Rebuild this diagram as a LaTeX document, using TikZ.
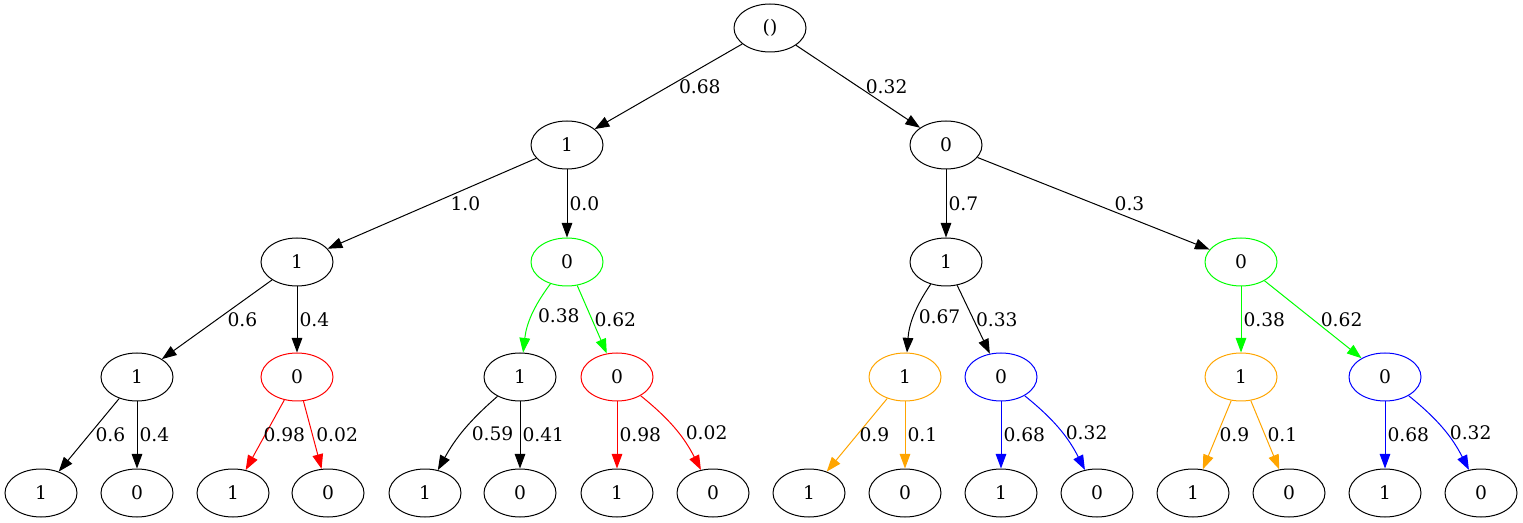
\documentclass[tikz,border=0pt]{standalone}
\usepackage{fontspec}
\setmainfont{DejaVu Serif}
\usetikzlibrary{arrows.meta,shapes.geometric}
\definecolor{gvgreen}{RGB}{0,255,0}
\definecolor{gvorange}{RGB}{255,165,0}
\tikzset{
  >={Triangle[length=11pt,width=8pt]},
  state/.style={draw,ellipse,minimum width=54pt,minimum height=36pt,inner sep=0pt},
  prob/.style={right,inner sep=1.5pt,text=black},
}

\begin{document}
\begin{tikzpicture}[
x=0.75pt,y=-0.75pt,
->,
line width=0.75pt,
font=\fontsize{14}{17}\selectfont
]
\useasboundingbox (0,0) rectangle (1523,523);
% root and upper levels
\node[state] (r) at (770,28) {()};
\node[state] (n1) at (567,145) {1};
\node[state] (n0) at (946,145) {0};
\node[state] (n11) at (297,262) {1};
\node[state,gvgreen] (n10) at (567,262) {\textcolor{black}{0}};
\node[state] (n01) at (946,262) {1};
\node[state,gvgreen] (n00) at (1241,262) {\textcolor{black}{0}};
\node[state] (n111) at (137,377) {1};
\node[state,red] (n110) at (297,377) {\textcolor{black}{0}};
\node[state] (n101) at (520,377) {1};
\node[state,red] (n100) at (617,377) {\textcolor{black}{0}};
\node[state,gvorange] (n011) at (905,377) {\textcolor{black}{1}};
\node[state,blue] (n010) at (1001,377) {\textcolor{black}{0}};
\node[state,gvorange] (n001) at (1241,377) {\textcolor{black}{1}};
\node[state,blue] (n000) at (1385,377) {\textcolor{black}{0}};
% leaves
\node[state] (n1111) at (41,493) {1};
\node[state] (n1110) at (137,493) {0};
\node[state] (n1101) at (233,493) {1};
\node[state] (n1100) at (328,493) {0};
\node[state] (n1011) at (425,493) {1};
\node[state] (n1010) at (520,493) {0};
\node[state] (n1001) at (617,493) {1};
\node[state] (n1000) at (713,493) {0};
\node[state] (n0111) at (809,493) {1};
\node[state] (n0110) at (905,493) {0};
\node[state] (n0101) at (1001,493) {1};
\node[state] (n0100) at (1097,493) {0};
\node[state] (n0011) at (1193,493) {1};
\node[state] (n0010) at (1289,493) {0};
\node[state] (n0001) at (1385,493) {1};
\node[state] (n0000) at (1481,493) {0};

\path
(r) edge node[prob,xshift=6pt]{0.68} (n1)
(r) edge node[prob,xshift=4pt]{0.32} (n0)
(n1) edge node[prob,xshift=12pt]{1.0} (n11)
(n1) edge node[prob]{0.0} (n10)
(n0) edge node[prob]{0.7} (n01)
(n0) edge node[prob,xshift=14pt]{0.3} (n00)
(n11) edge node[prob,xshift=6pt]{0.6} (n111)
(n11) edge node[prob]{0.4} (n110)
(n10) edge[draw=gvgreen,bend right=15] node[prob,xshift=3pt]{0.38} (n101)
(n10) edge[draw=gvgreen] node[prob]{0.62} (n100)
(n01) edge[bend right=15] node[prob,xshift=2pt]{0.67} (n011)
(n01) edge node[prob]{0.33} (n010)
(n00) edge[draw=gvgreen] node[prob]{0.38} (n001)
(n00) edge[draw=gvgreen] node[prob,xshift=4pt]{0.62} (n000);

% bottom level
\path
(n111) edge node[prob,xshift=3pt]{0.6} (n1111)
(n111) edge node[prob]{0.4} (n1110)
(n110) edge[draw=red] node[prob,xshift=-3pt]{0.98} (n1101)
(n110) edge[draw=red] node[prob,xshift=1pt]{0.02} (n1100)
(n101) edge[bend right=10] node[prob,xshift=4pt,yshift=-3pt]{0.59} (n1011)
(n101) edge node[prob]{0.41} (n1010)
(n100) edge[draw=red] node[prob]{0.98} (n1001)
(n100) edge[draw=red,bend left=12] node[prob,pos=0.55,xshift=4pt]{0.02} (n1000)
(n011) edge[draw=gvorange] node[prob]{0.9} (n0111)
(n011) edge[draw=gvorange] node[prob]{0.1} (n0110)
(n010) edge[draw=blue] node[prob]{0.68} (n0101)
(n010) edge[draw=blue,bend left=12] node[prob,pos=0.55,xshift=1pt]{0.32} (n0100)
(n001) edge[draw=gvorange] node[prob]{0.9} (n0011)
(n001) edge[draw=gvorange] node[prob]{0.1} (n0010)
(n000) edge[draw=blue] node[prob]{0.68} (n0001)
(n000) edge[draw=blue,bend left=12] node[prob,pos=0.55,xshift=1pt]{0.32} (n0000);
\end{tikzpicture}
\end{document}
